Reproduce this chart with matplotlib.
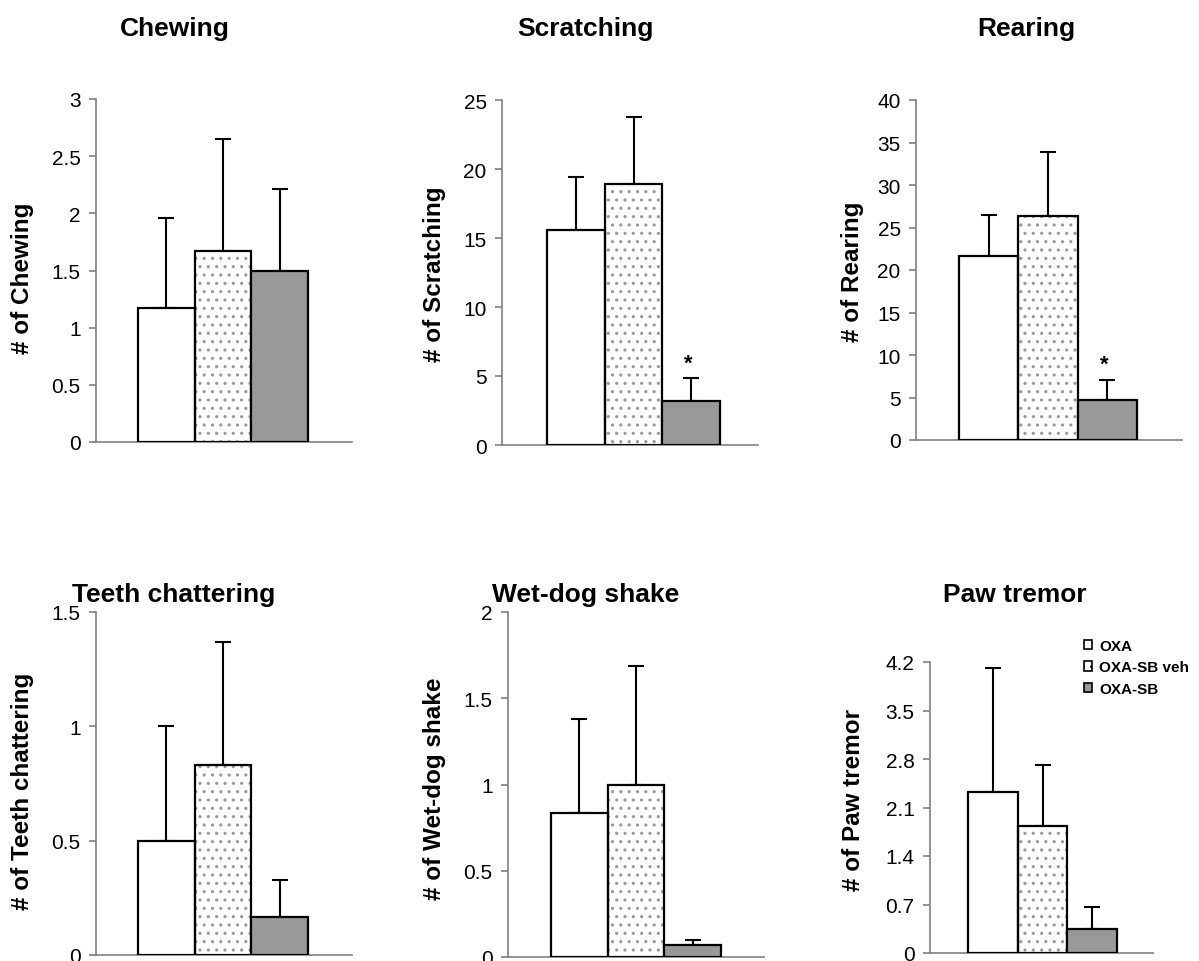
import matplotlib
matplotlib.use("Agg")
import matplotlib.pyplot as plt
from matplotlib.patches import Patch

plt.rcParams['font.family'] = ['Liberation Sans', 'DejaVu Sans']
plt.rcParams['hatch.linewidth'] = 1.1

# datos de cada panel (media y error estandar, solo hacia arriba)
groups = ["OXA", "OXA-SB veh", "OXA-SB"]
titles = ["Chewing", "Scratching", "Rearing", "Teeth chattering", "Wet-dog shake", "Paw tremor"]
ylabels = ["# of Chewing", "# of Scratching", "# of Rearing",
           "# of Teeth chattering", "# of Wet-dog shake", "# of Paw tremor"]

chewing_mean = [1.17, 1.67, 1.50]
chewing_err = [0.79, 0.98, 0.71]
scratching_mean = [15.6, 18.9, 3.2]
scratching_err = [3.8, 4.9, 1.65]
rearing_mean = [21.6, 26.3, 4.7]
rearing_err = [4.9, 7.6, 2.4]
teeth_mean = [0.50, 0.83, 0.165]
teeth_err = [0.50, 0.54, 0.165]
wetdog_mean = [0.835, 1.0, 0.07]
wetdog_err = [0.545, 0.685, 0.03]
paw_mean = [2.33, 1.84, 0.35]
paw_err = [1.78, 0.88, 0.32]

means = [chewing_mean, scratching_mean, rearing_mean, teeth_mean, wetdog_mean, paw_mean]
errs = [chewing_err, scratching_err, rearing_err, teeth_err, wetdog_err, paw_err]
signif = [False, True, True, False, False, False]   # asterisco sobre OXA-SB

yticks = [[0, 0.5, 1, 1.5, 2, 2.5, 3],
          [0, 5, 10, 15, 20, 25],
          [0, 5, 10, 15, 20, 25, 30, 35, 40],
          [0, 0.5, 1, 1.5],
          [0, 0.5, 1, 1.5, 2],
          [0, 0.7, 1.4, 2.1, 2.8, 3.5, 4.2]]
yticklabels = [["0", "0.5", "1", "1.5", "2", "2.5", "3"],
               ["0", "5", "10", "15", "20", "25"],
               ["0", "5", "10", "15", "20", "25", "30", "35", "40"],
               ["0", "0.5", "1", "1.5"],
               ["0", "0.5", "1", "1.5", "2"],
               ["0", "0.7", "1.4", "2.1", "2.8", "3.5", "4.2"]]

# layout en pixeles: (x0, x1, ytop, ybottom, borde izq. primera barra, ancho barra)
W, H = 1199, 962
boxes = [(96, 352, 100, 443, 138, 56.7),
         (502, 758, 101, 446, 547, 57.7),
         (916, 1182, 101, 441, 959, 59.3),
         (96, 352, 613, 956, 138, 56.7),
         (508, 764, 613, 958, 551, 56.6),
         (930, 1153, 663, 954, 968, 49.7)]
title_pos = [(175, 36), (585, 36), (1026, 36), (174, 602), (586, 602), (1015, 602)]
ylabel_pos = [(23, 278), (434, 274), (852, 272), (23, 791), (434, 789), (854, 800)]

colors = ["white", "white", "#999999"]
hatches = [None, "..", None]

fig = plt.figure(figsize=(W / 100, H / 100), dpi=100)

for i in range(6):
    x0, x1, yt, yb, L, bw = boxes[i]
    ax = fig.add_axes([x0 / W, 1 - yb / H, (x1 - x0) / W, (yb - yt) / H])
    xs = [0, 1, 2]
    for j in xs:
        if hatches[j]:
            ax.bar(j, means[i][j], width=1, color="white", edgecolor="#999999",
                   hatch=hatches[j], linewidth=0, zorder=2)
            ax.bar(j, means[i][j], width=1, fill=False, edgecolor="black",
                   linewidth=1.6, zorder=3)
        else:
            ax.bar(j, means[i][j], width=1, color=colors[j], edgecolor="black",
                   linewidth=1.6, zorder=3)
    ax.errorbar(xs, means[i], yerr=[[0, 0, 0], errs[i]], fmt="none", ecolor="black",
                elinewidth=1.5, capsize=6, capthick=1.5, zorder=1)
    if signif[i]:
        ax.annotate("*", (2, means[i][2] + errs[i][2]), xytext=(-2, 7),
                    textcoords="offset points", ha="center", va="baseline",
                    fontsize=16, fontweight="bold")
    ax.set_xlim(-0.5 - (L - x0) / bw, -0.5 + (x1 - L) / bw)
    ax.set_ylim(yticks[i][0], yticks[i][-1])
    ax.set_yticks(yticks[i])
    ax.set_yticklabels(yticklabels[i])
    ax.set_xticks([])
    for s in ["top", "right"]:
        ax.spines[s].set_visible(False)
    for s in ["left", "bottom"]:
        ax.spines[s].set_color("#808080")
        ax.spines[s].set_linewidth(1.2)
    ax.tick_params(axis="y", length=5, width=1.2, color="#808080", labelsize=15, pad=6)
    fig.text(title_pos[i][0] / W, 1 - title_pos[i][1] / H, titles[i], ha="center",
             va="baseline", fontsize=19, fontweight="bold")
    fig.text(ylabel_pos[i][0] / W, 1 - ylabel_pos[i][1] / H, ylabels[i], ha="center",
             va="center", rotation=90, fontsize=17.5, fontweight="bold")

handles = [Patch(facecolor=colors[j], edgecolor="black", hatch=hatches[j], linewidth=1.2)
           for j in range(3)]
fig.legend(handles, groups, loc="upper left", bbox_to_anchor=(1070 / W, 1 - 626 / H),
           frameon=False, handlelength=0.55, handleheight=0.55, handletextpad=0.45,
           labelspacing=0.5, prop={"size": 11, "weight": "bold"})

fig.savefig("out.png", dpi=100)
